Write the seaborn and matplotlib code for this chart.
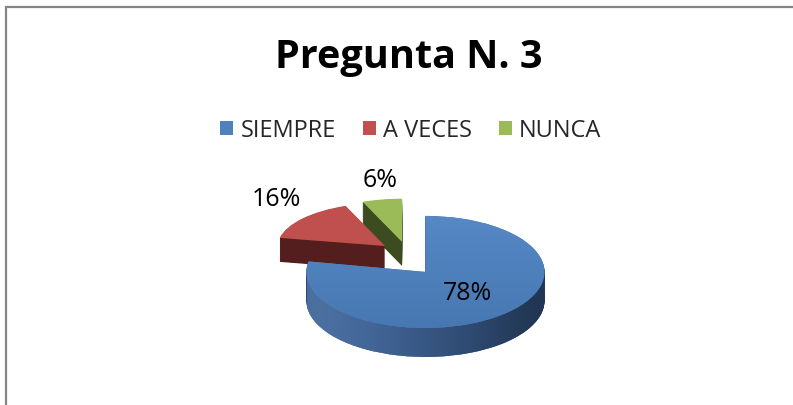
import numpy as np
import matplotlib
matplotlib.use("Agg")
import matplotlib.pyplot as plt
from matplotlib.colors import LinearSegmentedColormap
from matplotlib.patches import Rectangle
import seaborn as sns

categories = ["SIEMPRE", "A VECES", "NUNCA"]
values = [78, 16, 6]
pct_labels = ["78%", "16%", "6%"]
title = "Pregunta N. 3"

top_colors = ["#4F81BD", "#C0504D", "#9BBB59"]
side_colors = ["#2E4B73", "#531E1D", "#3D4B20"]

W, H = 793, 406
RX = 119          # px per radius unit, horizontally
EXPLODE = 0.23
N_LAYERS = 40

# front slice (SIEMPRE) and back slices get slightly different vertical
# scales / radii to fake the perspective of the 3-D pie
FRONT = dict(cx=408, cy=263, ry=56, radius=1.0, depth=29, show=[0])
BACK = dict(cx=407.5, cy=254.5, ry=48, radius=0.9, depth=24, show=[1, 2])

sns.set_theme(style="white")
plt.rcParams['font.family'] = ['Open Sans', 'DejaVu Sans']

fig = plt.figure(figsize=(W / 100, H / 100), dpi=100)

side_cmap = LinearSegmentedColormap.from_list(
    "side", ["#5b83b6", "#44699c", "#2f4b72", "#1c2b42"])
top_cmap = LinearSegmentedColormap.from_list("top", ["#5a8bc8", "#4F81BD", "#4777b0"])
grad = np.linspace(0, 1, 256).reshape(1, -1)
tgrad = np.linspace(0, 1, 256).reshape(-1, 1)

pie_kw = dict(explode=[EXPLODE, 0.245, 0.245], startangle=90, counterclock=False,
              wedgeprops=dict(linewidth=0))


def draw_slices(cfg):
    ax = fig.add_axes([0, 0, 1, 1])
    ax.patch.set_alpha(0)
    depth = cfg['depth'] / cfg['ry']
    for k in range(N_LAYERS, 0, -1):
        off = depth * k / N_LAYERS
        wedges, _ = ax.pie(values, colors=side_colors, center=(0, -off),
                           radius=cfg['radius'], **pie_kw)
        for i, w in enumerate(wedges):
            w.set_visible(i in cfg['show'])
        if 0 in cfg['show']:
            im = ax.imshow(grad, cmap=side_cmap, extent=[-0.85, 1.2, -2, 1.5],
                           aspect='auto', interpolation='bilinear', zorder=1)
            im.set_clip_path(wedges[0])
    tops, _ = ax.pie(values, colors=top_colors, center=(0, 0),
                     radius=cfg['radius'], **pie_kw)
    for i, w in enumerate(tops):
        w.set_visible(i in cfg['show'])
    if 0 in cfg['show']:
        im = ax.imshow(tgrad, cmap=top_cmap, extent=[-1.2, 1.5, -1.3, 1.2],
                       aspect='auto', interpolation='bilinear', zorder=1)
        im.set_clip_path(tops[0])
    ax.set_aspect('auto')
    ax.set_xlim(-cfg['cx'] / RX, (W - cfg['cx']) / RX)
    ax.set_ylim(-(H - cfg['cy']) / cfg['ry'], cfg['cy'] / cfg['ry'])
    ax.axis('off')
    return ax, tops


ax_back, back_tops = draw_slices(BACK)
ax_front, front_tops = draw_slices(FRONT)

# percentage labels (pixel positions)
label_px = [(468, 294), (276, 200), (380, 181)]
for (x, y), t in zip(label_px, pct_labels):
    fig.text(x / W, 1 - y / H, t, ha='center', va='center', fontsize=18, color='#000000')

fig.text(409 / W, 1 - 68 / H, title, ha='center', va='baseline',
         fontsize=28.5, fontweight='bold', color='#000000')

handles = [front_tops[0], back_tops[1], back_tops[2]]
fig.legend(handles, categories, loc='center', bbox_to_anchor=(411 / W, 1 - 131 / H),
           ncol=3, frameon=False, fontsize=17, handlelength=0.55, handleheight=0.55,
           handletextpad=0.3, columnspacing=1.15)

fig.add_artist(Rectangle((5.5 / W, -0.05), 1.1, (H - 8) / H + 0.05, transform=fig.transFigure,
                         fill=False, edgecolor='#858585', linewidth=1.6))

fig.savefig("out.png", dpi=100)
